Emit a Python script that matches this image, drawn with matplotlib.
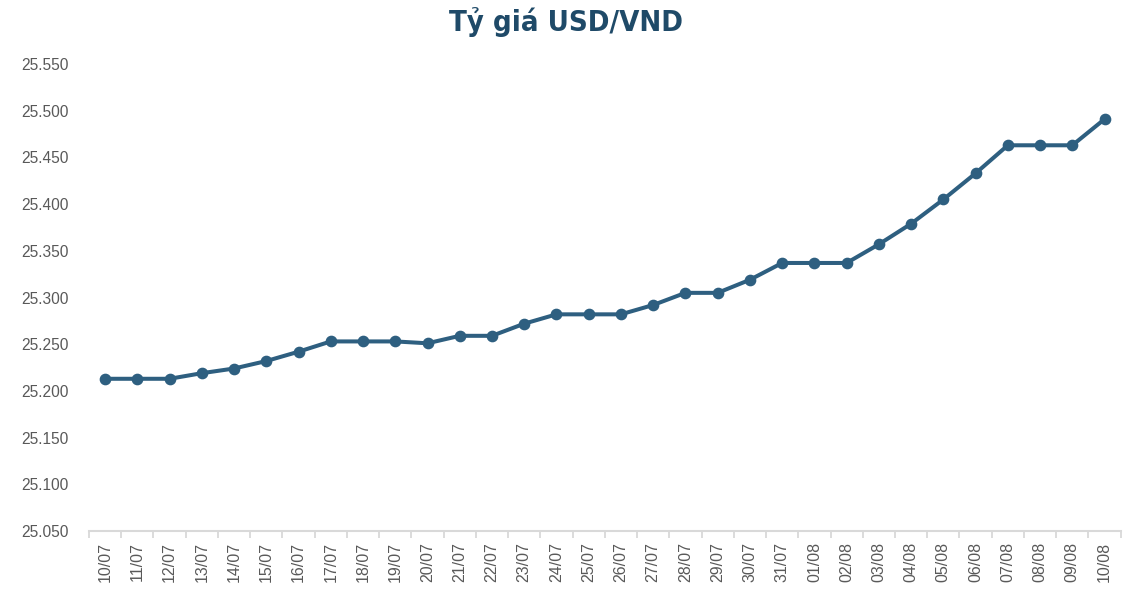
import matplotlib
matplotlib.use("Agg")
import matplotlib.pyplot as plt
import numpy as np

dates = ["10/07", "11/07", "12/07", "13/07", "14/07", "15/07", "16/07", "17/07",
         "18/07", "19/07", "20/07", "21/07", "22/07", "23/07", "24/07", "25/07",
         "26/07", "27/07", "28/07", "29/07", "30/07", "31/07", "01/08", "02/08",
         "03/08", "04/08", "05/08", "06/08", "07/08", "08/08", "09/08", "10/08"]
rates = [25213, 25213, 25213, 25219, 25224, 25232, 25242, 25253,
         25253, 25253, 25251, 25259, 25259, 25272, 25282, 25282,
         25282, 25292, 25305, 25305, 25319, 25337, 25337, 25337,
         25357, 25379, 25405, 25433, 25463, 25463, 25463, 25491]
y_ticks = [25050, 25100, 25150, 25200, 25250, 25300, 25350, 25400, 25450, 25500, 25550]

line_color = "#2E5F80"
text_color = "#595959"

fig = plt.figure(figsize=(11.32, 6.08), dpi=100)
ax = fig.add_axes([0.0786, 0.1266, 0.9114, 0.7681])

x = np.arange(len(dates))
ax.plot(x, rates, color=line_color, lw=2.9, marker="o", markersize=7.4,
        solid_joinstyle="round", solid_capstyle="round")

ax.set_xlim(-0.5, len(dates) - 0.5)
ax.set_ylim(25050, 25550)
ax.set_yticks(y_ticks)
ax.set_yticklabels([f"{v:,}".replace(",", ".") for v in y_ticks],
                   fontsize=11.2, color=text_color, family="Liberation Sans")
ax.set_xticks(x)
ax.set_xticklabels(dates, rotation=90, fontsize=11.5, color=text_color,
                   family="Liberation Sans")
ax.set_xticks(np.arange(-0.5, len(dates), 1), minor=True)
ax.tick_params(axis="x", which="major", length=0, pad=8)
ax.tick_params(axis="x", which="minor", length=5, color="#D9D9D9", width=1.3)
ax.tick_params(axis="y", length=0, pad=15)

for s in ["top", "right", "left"]:
    ax.spines[s].set_visible(False)
ax.spines["bottom"].set_color("#D9D9D9")
ax.spines["bottom"].set_linewidth(1.5)

fig.text(0.5, 0.963, "Tỷ giá USD/VND", ha="center", va="center",
         fontsize=21, fontweight="bold", color="#1F4A68",
         family="DejaVu Sans", fontstretch="condensed")

fig.savefig("out.png", dpi=100)
